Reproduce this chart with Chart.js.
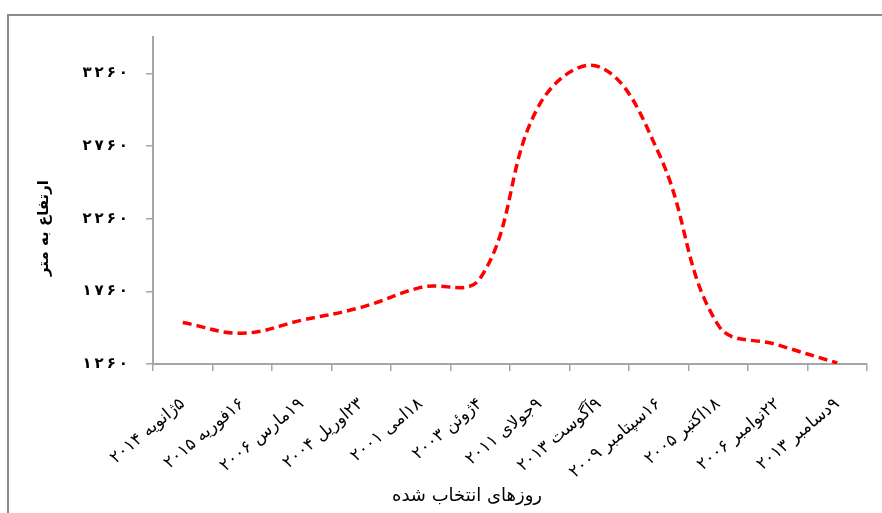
<!DOCTYPE html>
<html>
<head>
<meta charset="utf-8">
<script src="https://cdn.jsdelivr.net/npm/chart.js@4/dist/chart.umd.min.js"></script>
<style>
    html, body { margin: 0; padding: 0; background: #ffffff; }
    #wrap { width: 882px; height: 513px; position: relative; }
</style>
</head>
<body>
<div id="wrap"><canvas id="elevChart" dir="rtl" width="882" height="513"></canvas></div>
<script>
// Selected days (category axis)
const days = [
    '۵ژانویه ۲۰۱۴', '۱۶فوریه ۲۰۱۵', '۱۹مارس ۲۰۰۶', '۲۳اوریل ۲۰۰۴',
    '۱۸امی ۲۰۰۱', '۴ژوئن ۲۰۰۳', '۹جولای ۲۰۱۱', '۹آگوست ۲۰۱۳',
    '۱۶سپتامبر ۲۰۰۹', '۱۸اکتبر ۲۰۰۵', '۲۲نوامبر ۲۰۰۶', '۹دسامبر ۲۰۱۳'
];

// Elevation in metres for each day
const elevation = [1545, 1472, 1561, 1650, 1787, 1850, 3048, 3305, 2710, 1527, 1392, 1267];

// Y axis tick values
const yTickValues = [1260, 1760, 2260, 2760, 3260];

const yTitle = 'ارتفاع به متر';
const xTitle = 'روزهای انتخاب شده';

// Persian digits, spaced out a little; the leading LRM keeps them left-to-right on the rtl canvas
const toPersianDigits = n => '\u200E' + String(n).replace(/\d/g, d => '۰۱۲۳۴۵۶۷۸۹'[d]).split('').join('\u2009');

const axisGrey = '#a6a6a6';
const fontFamily = "'DejaVu Sans', sans-serif";

// Outer frame and the two axis titles
const decorations = {
    id: 'decorations',
    beforeDraw(chart) {
        const ctx = chart.ctx;
        ctx.save();
        ctx.strokeStyle = '#8c8c8c';
        ctx.lineWidth = 2;
        ctx.beginPath();
        ctx.moveTo(8, 513);
        ctx.lineTo(8, 15);
        ctx.lineTo(882, 15);
        ctx.stroke();
        ctx.restore();
    },
    afterDraw(chart) {
        const ctx = chart.ctx;
        ctx.save();
        ctx.fillStyle = '#000000';
        ctx.textAlign = 'center';
        ctx.textBaseline = 'middle';
        ctx.font = '18px ' + fontFamily;
        ctx.fillText(xTitle, 467, 496);
        ctx.font = 'bold 15px ' + fontFamily;
        ctx.translate(44, 228);
        ctx.rotate(-Math.PI / 2);
        ctx.fillText(yTitle, 0, 0);
        ctx.restore();
    }
};

new Chart(document.getElementById('elevChart'), {
    type: 'line',
    data: {
        labels: days,
        datasets: [{
            data: elevation,
            borderColor: '#ff0000',
            borderWidth: 3.5,
            borderDash: [9, 5],
            pointRadius: 0,
            fill: false,
            tension: 0.4
        }]
    },
    options: {
        responsive: false,
        animation: false,
        layout: { padding: { top: 37, right: 15, left: 0, bottom: 0 } },
        plugins: {
            legend: { display: false },
            tooltip: { enabled: false }
        },
        scales: {
            x: {
                offset: true,
                afterFit: scale => { scale.height = 149; },
                border: { display: true, color: axisGrey, width: 2 },
                grid: {
                    display: true,
                    offset: true,
                    drawOnChartArea: false,
                    drawTicks: true,
                    tickLength: 7,
                    color: axisGrey,
                    lineWidth: 1.5
                },
                ticks: {
                    autoSkip: false,
                    minRotation: 40,
                    maxRotation: 40,
                    padding: 23,
                    color: '#000000',
                    font: { family: fontFamily, size: 17 }
                }
            },
            y: {
                min: 1260,
                max: 3510,
                afterFit: scale => { scale.width = 153; },
                afterBuildTicks: scale => {
                    scale.ticks = yTickValues.map(v => ({ value: v }));
                },
                border: { display: true, color: axisGrey, width: 2 },
                grid: {
                    display: true,
                    drawOnChartArea: false,
                    drawTicks: true,
                    tickLength: 7,
                    color: axisGrey,
                    lineWidth: 1.5
                },
                ticks: {
                    padding: 18,
                    color: '#000000',
                    font: { family: fontFamily, size: 15, weight: 'bold' },
                    callback: value => toPersianDigits(value)
                }
            }
        }
    },
    plugins: [decorations]
});
</script>
</body>
</html>
